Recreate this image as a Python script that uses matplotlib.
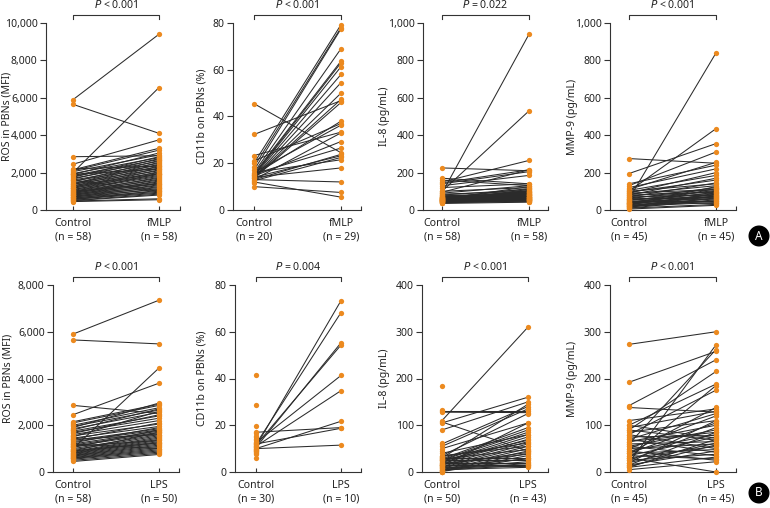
import matplotlib
matplotlib.use("Agg")
import matplotlib.pyplot as plt
from matplotlib.ticker import FuncFormatter
from matplotlib import transforms

plt.rcParams['font.family'] = ['Noto Sans', 'DejaVu Sans']

# ---------------- data ----------------
# Row A (fMLP)
ros_f_ctrl = [5900, 5650, 2850, 2450, 2000, 2150, 2100, 2050, 1950, 1900,
              1850, 1800, 1750, 1700, 1650, 1600, 1550, 1500, 1450, 1400,
              1380, 1350, 1300, 1280, 1250, 1200, 1180, 1150, 1100, 1080,
              1050, 1000, 980, 950, 920, 900, 880, 850, 820, 800,
              780, 750, 720, 700, 680, 650, 620, 600, 580, 550,
              520, 500, 480, 450, 1600, 1900, 2200, 1000]
ros_f_trt = [9400, 4100, 2900, 3750, 6550, 3300, 3200, 2950, 2800, 3050,
             2700, 2600, 2850, 2500, 2750, 2400, 2300, 2650, 2200, 2550,
             2100, 2450, 2000, 2350, 1950, 2250, 1900, 2150, 1850, 2050,
             1800, 1700, 1950, 1600, 1750, 1500, 1650, 1400, 1550, 1300,
             1450, 1200, 1350, 1100, 1250, 1000, 1150, 950, 900, 1050,
             850, 800, 600, 550, 1000, 2200, 2350, 1400]

cd_f_ctrl_dots = [45.5, 32.3, 23.3, 21, 20, 18.5, 17, 16, 15.5, 15,
                  14.5, 14, 13.8, 13.5, 13, 12.5, 12, 11.5, 10, 14.8]
cd_f_ctrl = [45.5, 32.3, 23.3, 21, 20, 18.5, 17, 16, 15.5, 15,
             14.8, 14.5, 14, 14, 13.8, 13.5, 15, 16, 13, 14.5,
             15.5, 13, 14, 12.5, 16, 14, 13, 10, 12]
cd_f_trt = [24.5, 46.8, 33.3, 37, 79.3, 78, 77.5, 69, 63.7, 63,
            61.3, 58, 54.5, 50, 47.3, 46, 38, 36.3, 33, 29.3,
            26.5, 23.8, 23.2, 22.5, 21.5, 18, 12, 7.5, 5.5]

il8_f_ctrl = [90, 100, 225, 170, 160, 150, 145, 140, 130, 120,
              100, 95, 90, 85, 80, 75,
              72, 70, 68, 66, 65, 64, 62, 61, 60, 59,
              58, 57, 56, 55, 54, 53, 52, 51, 50, 49,
              48, 47, 46, 45, 44, 43, 42, 40, 38,
              55, 60, 65, 70, 75, 80, 50, 45, 35,
              58, 62, 48, 53]
il8_f_trt = [940, 530, 210, 140, 130, 265, 215, 205, 185, 140,
             120, 215, 130, 100, 110, 95,
             90, 85, 80, 75, 95, 70, 88, 65, 78, 60,
             72, 68, 82, 58, 66, 74, 55, 62, 70, 52,
             64, 58, 50, 60, 54, 48, 56, 45, 50,
             85, 100, 92, 60, 55, 70, 110, 80, 42,
             125, 115, 95, 105]

mmp_f_ctrl = [275, 195, 140, 60, 100, 130, 110, 120, 90, 105,
              80, 95, 70, 85, 60, 75, 50, 65, 40, 55,
              30, 45, 20, 35, 15, 25, 10, 50, 30, 20,
              40, 10, 60, 80, 100, 25, 15, 45, 35, 70,
              5, 55, 90, 20, 30]
mmp_f_trt = [250, 355, 240, 840, 435, 310, 255, 220, 200, 185,
             170, 160, 145, 130, 120, 110, 105, 100, 95, 90,
             85, 80, 75, 70, 65, 60, 55, 50, 45, 40,
             35, 30, 65, 95, 140, 115, 90, 60, 75, 80,
             25, 70, 110, 50, 125]

# Row B (LPS)
ros_l_ctrl = [5900, 5650, 2850, 2450, 1000, 2150, 2100, 2000, 1950, 1900,
              1850, 1800, 1750, 1700, 1650, 1600, 1550, 1500, 1450, 1400,
              1350, 1300, 1250, 1200, 1150, 1100, 1050, 1000, 950, 900,
              880, 850, 820, 800, 780, 750, 720, 700, 680, 650,
              620, 600, 580, 550, 500, 450, 1200, 1400, 900, 1100]
ros_l_trt = [7350, 5480, 2500, 3800, 4450, 2900, 2850, 2750, 2650, 2950,
             2550, 2700, 2400, 2300, 2450, 2200, 2050, 2600, 1950, 2100,
             1850, 1800, 1900, 1750, 1700, 1650, 1800, 1600, 1550, 1700,
             1500, 1450, 1400, 1350, 1300, 1250, 1200, 1150, 1100, 1050,
             1000, 950, 900, 850, 800, 750, 1000, 1600, 1250, 1350]
ros_l_ctrl_extra = [2050, 1780, 1520, 1320, 1080, 960, 740, 640]

cd_l_ctrl_dots = [41.7, 28.7, 19.7, 17.2, 16.5, 15.5, 15, 14, 13.5, 13,
                  12.5, 12, 11.8, 11.5, 11.2, 11, 10.8, 10.5, 10.2, 10,
                  9.8, 9.5, 9.2, 9, 8.8, 8.5, 8, 7.5, 6, 12.2]
cd_l_ctrl = [11, 12, 10.5, 11.5, 12.5, 11, 10, 17, 12, 10]
cd_l_trt = [73.3, 68.2, 55.3, 54.3, 41.3, 34.8, 21.7, 19, 18.7, 11.5]

il8_l_ctrl = [110, 130, 128, 107, 105, 90, 60, 55, 50, 35,
              30, 28, 25, 22, 20, 18, 15, 12, 10, 8,
              5, 3, 2, 30, 25, 20, 15, 10, 5, 35,
              40, 28, 18, 12, 8, 6, 4, 14, 24, 1,
              16, 33, 26]
il8_l_trt = [310, 130, 127, 45, 160, 150, 140, 135, 105, 125,
             145, 95, 85, 80, 75, 70, 65, 60, 55, 50,
             45, 40, 35, 30, 25, 20, 15, 12, 10, 55,
             80, 48, 38, 28, 22, 18, 15, 105, 68, 30,
             42, 62, 90]
il8_l_ctrl_extra = [185, 132, 62, 45, 0, 1, 32]

mmp_l_ctrl = [273, 192, 142, 138, 20, 60, 90, 100, 30, 80,
              110, 95, 70, 50, 85, 40, 65, 25, 55, 15,
              45, 75, 35, 10, 90, 60, 20, 50, 30, 80,
              40, 15, 70, 25, 55, 10, 35, 45, 5, 30,
              65, 20, 100, 40, 12]
mmp_l_trt = [300, 258, 240, 128, 272, 262, 215, 188, 185, 175,
             135, 130, 125, 120, 110, 105, 100, 95, 90, 85,
             80, 78, 75, 70, 68, 65, 62, 60, 55, 50,
             48, 45, 42, 38, 35, 32, 28, 25, 22, 0,
             85, 110, 72, 138, 58]

panels = [
    dict(ctrl=ros_f_ctrl, trt=ros_f_trt, cdots=ros_f_ctrl, tdots=ros_f_trt,
         ymax=10000, step=2000, ylabel="ROS in PBNs (MFI)", grp="fMLP",
         nc=58, nt=58, p=("<", "0.001")),
    dict(ctrl=cd_f_ctrl, trt=cd_f_trt, cdots=cd_f_ctrl_dots, tdots=cd_f_trt,
         ymax=80, step=20, ylabel="CD11b on PBNs (%)", grp="fMLP",
         nc=20, nt=29, p=("<", "0.001")),
    dict(ctrl=il8_f_ctrl, trt=il8_f_trt, cdots=il8_f_ctrl, tdots=il8_f_trt,
         ymax=1000, step=200, ylabel="IL-8 (pg/mL)", grp="fMLP",
         nc=58, nt=58, p=("=", "0.022")),
    dict(ctrl=mmp_f_ctrl, trt=mmp_f_trt, cdots=mmp_f_ctrl, tdots=mmp_f_trt,
         ymax=1000, step=200, ylabel="MMP-9 (pg/mL)", grp="fMLP",
         nc=45, nt=45, p=("<", "0.001")),
    dict(ctrl=ros_l_ctrl, trt=ros_l_trt, cdots=ros_l_ctrl + ros_l_ctrl_extra, tdots=ros_l_trt,
         ymax=8000, step=2000, ylabel="ROS in PBNs (MFI)", grp="LPS",
         nc=58, nt=50, p=("<", "0.001")),
    dict(ctrl=cd_l_ctrl, trt=cd_l_trt, cdots=cd_l_ctrl_dots, tdots=cd_l_trt,
         ymax=80, step=20, ylabel="CD11b on PBNs (%)", grp="LPS",
         nc=30, nt=10, p=("=", "0.004")),
    dict(ctrl=il8_l_ctrl, trt=il8_l_trt, cdots=il8_l_ctrl + il8_l_ctrl_extra, tdots=il8_l_trt,
         ymax=400, step=100, ylabel="IL-8 (pg/mL)", grp="LPS",
         nc=50, nt=43, p=("<", "0.001")),
    dict(ctrl=mmp_l_ctrl, trt=mmp_l_trt, cdots=mmp_l_ctrl, tdots=mmp_l_trt,
         ymax=400, step=100, ylabel="MMP-9 (pg/mL)", grp="LPS",
         nc=45, nt=45, p=("<", "0.001")),
]

# pixel layout: (y-axis x, control x, treatment x, right end x)
xpix = [(46, 73, 159, 180), (233, 254, 341, 361), (423, 442, 529, 548), (610, 629, 716, 736),
        (53, 73, 159, 179), (235, 256, 341, 361), (422, 442, 528, 548), (610, 629, 716, 736)]
ylabel_x = [7, 202, 384, 573, 8, 202, 384, 573]
rows_pix = [(23, 210), (285, 472)]

W, H = 770, 508
fig = plt.figure(figsize=(W / 100, H / 100), dpi=100)

ORANGE = "#EC8A1F"
LINE = "#2b2b2b"
SPINE = "#333333"
TXT = "#222222"
FS = 7.6

for i, pn in enumerate(panels):
    r = i // 4
    x0, xc, xt, x1 = xpix[i]
    top, bot = rows_pix[r]
    ax = fig.add_axes([x0 / W, 1 - bot / H, (x1 - x0) / W, (bot - top) / H])
    u = xt - xc
    ax.set_xlim((x0 - xc) / u, (x1 - xc) / u)
    ax.set_ylim(0, pn["ymax"])
    for c, t in zip(pn["ctrl"], pn["trt"]):
        ax.plot([0, 1], [c, t], color=LINE, lw=0.75, zorder=2)
    ax.plot([0] * len(pn["cdots"]), pn["cdots"], 'o', color=ORANGE, ms=3.8, mew=0, zorder=3, clip_on=False)
    ax.plot([1] * len(pn["tdots"]), pn["tdots"], 'o', color=ORANGE, ms=3.8, mew=0, zorder=3, clip_on=False)

    for s in ["top", "right"]:
        ax.spines[s].set_visible(False)
    for s in ["left", "bottom"]:
        ax.spines[s].set_color(SPINE)
        ax.spines[s].set_linewidth(0.8)
    ticks = list(range(0, pn["ymax"] + 1, pn["step"]))
    ax.set_yticks(ticks)
    ax.yaxis.set_major_formatter(FuncFormatter(lambda v, p: f"{int(v):,}"))
    ax.tick_params(axis='y', direction='out', length=4, width=0.8, color=SPINE,
                   labelsize=FS - 0.1, pad=2, labelcolor=TXT)
    ax.set_xticks([0, 1, (x1 - xc) / u])
    ax.set_xticklabels([])
    ax.tick_params(axis='x', direction='in', length=3, width=0.8, color=SPINE)
    ax.set_ylabel(pn["ylabel"], fontsize=FS, color=TXT)
    tr = transforms.blended_transform_factory(fig.transFigure, ax.transAxes)
    ax.yaxis.set_label_coords(ylabel_x[i] / W, 0.5, transform=tr)
    ax.yaxis.label.set_va('center')

    # group labels
    ytxt1 = bot + 13
    ytxt2 = bot + 27
    fig.text(xc / W, 1 - ytxt1 / H, "Control", ha='center', va='center', fontsize=FS, color=TXT)
    fig.text(xc / W, 1 - ytxt2 / H, f"(n = {pn['nc']})", ha='center', va='center', fontsize=FS, color=TXT)
    fig.text(xt / W, 1 - ytxt1 / H, pn["grp"], ha='center', va='center', fontsize=FS, color=TXT)
    fig.text(xt / W, 1 - ytxt2 / H, f"(n = {pn['nt']})", ha='center', va='center', fontsize=FS, color=TXT)

    # significance bracket
    yb = top - 8
    ax.plot([xc / W, xc / W, xt / W, xt / W],
            [1 - (yb + 4) / H, 1 - yb / H, 1 - yb / H, 1 - (yb + 4) / H],
            transform=fig.transFigure, color=SPINE, lw=0.8, clip_on=False)
    fig.text((xc + xt) / 2 / W, 1 - (top - 18) / H,
             r"$\it{P}$" + f" {pn['p'][0]} {pn['p'][1]}",
             ha='center', va='center', fontsize=FS, color=TXT)

# panel badges
for lab, yy in [("A", 236), ("B", 493)]:
    fig.text(759 / W, 1 - yy / H, lab, ha='center', va='center', fontsize=8.5, fontweight='bold',
             color='white',
             bbox=dict(boxstyle='circle,pad=0.28', fc='black', ec='black'))

fig.savefig("out.png", dpi=100)
